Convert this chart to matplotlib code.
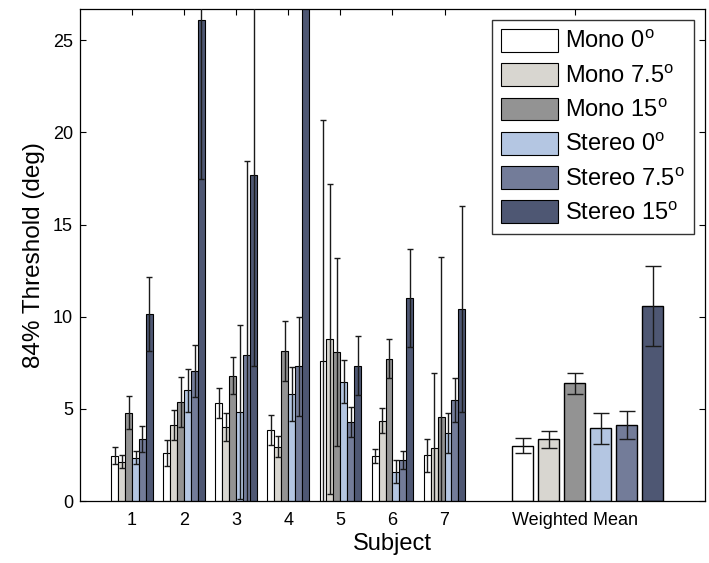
import numpy as np
import matplotlib.pyplot as plt

plt.rcParams["font.family"] = ["Liberation Sans", "DejaVu Sans"]
plt.rcParams["mathtext.fontset"] = "custom"
plt.rcParams["mathtext.rm"] = "Liberation Sans"

# Conditions (one bar per condition in each group)
conditions = [
    r"Mono 0$^\mathrm{o}$",
    r"Mono 7.5$^\mathrm{o}$",
    r"Mono 15$^\mathrm{o}$",
    r"Stereo 0$^\mathrm{o}$",
    r"Stereo 7.5$^\mathrm{o}$",
    r"Stereo 15$^\mathrm{o}$",
]

subjects = [1, 2, 3, 4, 5, 6, 7]

# 84% thresholds (deg), rows = subjects, columns = conditions
thresholds = [
    [2.46, 2.14, 4.80, 2.36, 3.35, 10.16],
    [2.59, 4.13, 5.36, 6.00, 7.07, 26.10],
    [5.31, 4.04, 6.81, 4.82, 7.93, 17.70],
    [3.86, 2.95, 8.15, 5.80, 7.30, 29.00],
    [7.61, 8.79, 8.10, 6.48, 4.28, 7.35],
    [2.45, 4.36, 7.73, 1.59, 2.23, 11.02],
    [2.48, 2.86, 4.58, 3.68, 5.49, 10.42],
]

# error bar half-lengths
errors = [
    [0.47, 0.37, 0.88, 0.37, 0.70, 2.00],
    [0.70, 0.83, 1.36, 1.17, 1.42, 8.60],
    [0.81, 0.76, 0.99, 4.73, 10.50, 10.40],
    [0.80, 0.57, 1.62, 1.47, 2.68, 2.00],
    [13.04, 8.40, 5.10, 1.17, 0.82, 1.60],
    [0.38, 0.67, 1.07, 0.63, 0.50, 2.65],
    [0.90, 4.10, 8.64, 1.07, 1.20, 5.57],
]

mean_values = [3.00, 3.35, 6.39, 3.95, 4.13, 10.56]
mean_errors = [0.40, 0.45, 0.56, 0.83, 0.75, 2.17]

colors = ["#FFFFFF", "#D8D6D0", "#939393", "#B4C6E2", "#737C99", "#4E5773"]

fig = plt.figure(figsize=(7.09, 5.63), dpi=100)
ax = fig.add_axes([0.1128, 0.1101, 0.8815, 0.8739])

thr = np.array(thresholds)
err = np.array(errors)
x = np.array(subjects, dtype=float)
n = len(conditions)
bar_width = 0.8 / n
offsets = (np.arange(n) - (n - 1) / 2) * bar_width

for i in range(n):
    ax.bar(x + offsets[i], thr[:, i], width=bar_width, color=colors[i],
           edgecolor="black", linewidth=0.8, label=conditions[i], zorder=2)
    ax.errorbar(x + offsets[i], thr[:, i], yerr=err[:, i], fmt="none",
                ecolor="#1a1a1a", elinewidth=1.0, capsize=2.5,
                capthick=1.0, zorder=3)

# weighted mean group, wider bars
mean_x = 8.5 + 0.5 * np.arange(n)
ax.bar(mean_x, mean_values, width=0.4, color=colors, edgecolor="black",
       linewidth=1.0, zorder=2)
ax.errorbar(mean_x, mean_values, yerr=mean_errors, fmt="none",
            ecolor="#1a1a1a", elinewidth=1.0, capsize=5.5, capthick=1.0,
            zorder=3)

ax.set_xlim(0, 12)
ax.set_ylim(0, 26.7)
ax.set_xticks(subjects + [9.5])
ax.set_xticklabels([str(s) for s in subjects] + ["Weighted Mean"])
ax.set_yticks([0, 5, 10, 15, 20, 25])
ax.tick_params(direction="in", top=True, right=True, length=4,
               labelsize=13, width=0.8)
ax.tick_params(axis="x", pad=8)
ax.tick_params(axis="y", pad=5)

ax.set_xlabel("Subject", fontsize=17, labelpad=3)
ax.set_ylabel("84% Threshold (deg)", fontsize=17.5, labelpad=6)

for s in ax.spines.values():
    s.set_linewidth(0.9)

leg = ax.legend(loc="upper right", fontsize=17, frameon=True, fancybox=False,
                edgecolor="black", handlelength=2.4, handleheight=1.1,
                labelspacing=0.42, handletextpad=0.3, borderpad=0.4,
                borderaxespad=0.45)
leg.get_frame().set_linewidth(1.0)
leg.set_zorder(5)

plt.savefig("out.png", dpi=100)
